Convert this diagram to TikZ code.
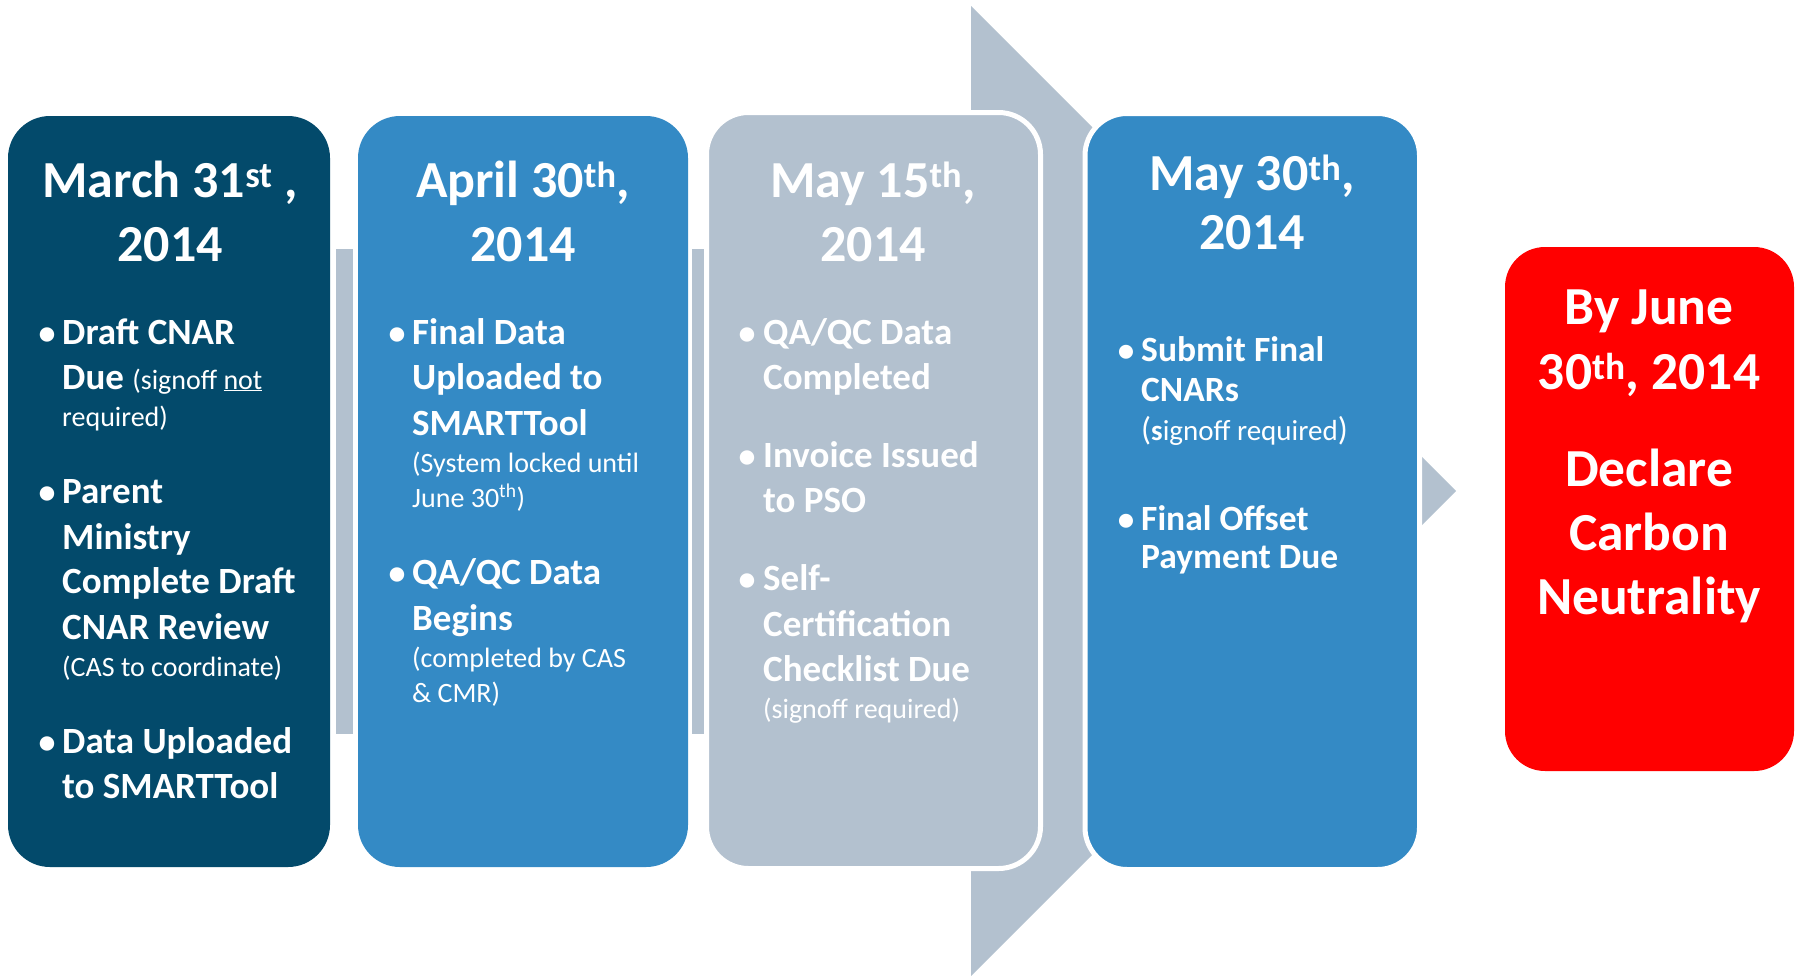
\documentclass[tikz,border=0pt]{standalone}
\usepackage{fontspec}
\setmainfont{Carlito}
\definecolor{navy}{RGB}{3,74,107}
\definecolor{midblue}{RGB}{52,138,197}
\definecolor{paleslate}{RGB}{179,193,207}
\definecolor{brightred}{RGB}{255,0,0}
\begin{document}
\begin{tikzpicture}[x=1pt,y=-1pt,
  boxshape/.style={rectangle,rounded corners=42pt,inner sep=0pt,outer sep=0pt},
  ttl/.style={anchor=base,inner sep=0pt,text=white,font=\fontsize{52}{64}\selectfont\bfseries},
  ttlr/.style={anchor=base,inner sep=0pt,text=white,font=\fontsize{53.5}{64}\selectfont\bfseries},
  ttlb/.style={anchor=base,inner sep=0pt,text=white,font=\fontsize{52}{58}\selectfont\bfseries},
  bl/.style={anchor=base west,inner sep=0pt,text=white,font=\fontsize{37}{46}\selectfont\bfseries},
  sl/.style={anchor=base west,inner sep=0pt,text=white,font=\fontsize{28}{34}\selectfont},
  blb/.style={anchor=base west,inner sep=0pt,text=white,font=\fontsize{35.5}{40}\selectfont\bfseries},
  slb/.style={anchor=base west,inner sep=0pt,text=white,font=\fontsize{29}{32}\selectfont},
  bul/.style={anchor=base,inner sep=0pt,text=white,font=\fontsize{34}{46}\selectfont\bfseries},
  bulb/.style={anchor=base,inner sep=0pt,text=white,font=\fontsize{33}{40}\selectfont\bfseries}]
\useasboundingbox (0,0) rectangle (1796,975);
% connecting shapes
\fill[paleslate] (971,6) -- (1456,491) -- (971,976) -- cycle;
\fill[paleslate] (336,249) rectangle (353,734);
\fill[paleslate] (692,249) rectangle (704,734);
% boxes
\node[boxshape,fill=navy,minimum width=322pt,minimum height=751pt] (box1) at (169,491.5) {};
\node[boxshape,fill=midblue,minimum width=330pt,minimum height=751pt] (box2) at (523,491.5) {};
\node[boxshape,fill=paleslate,draw=white,line width=5pt,minimum width=334pt,minimum height=756pt] (box3) at (873.5,490.5) {};
\node[boxshape,fill=midblue,draw=white,line width=5pt,minimum width=334.5pt,minimum height=756pt] (box4) at (1252.25,491.5) {};
\node[boxshape,rounded corners=40pt,fill=brightred,minimum width=289pt,minimum height=524pt] (box5) at (1649.5,509) {};
% box 1
\node[ttl] (t1a) at (170,197) {March 31\textsuperscript{st} ,};
\node[ttl] (t1b) at (170,261) {2014};
\node[bul] (d1a) at (47,344) {\textbullet};
\node[bl] (a1) at (62,344) {Draft CNAR};
\node[bl] (a2) at (62,389) {Due {\fontsize{28}{34}\selectfont\mdseries (signoff \underline{not}}};
\node[sl] (a3) at (62,426) {required)};
\node[bul] (d1b) at (47,503) {\textbullet};
\node[bl] (a4) at (62,503) {Parent};
\node[bl] (a5) at (62,549) {Ministry};
\node[bl] (a6) at (62,593) {Complete Draft};
\node[bl] (a7) at (62,639) {CNAR Review};
\node[sl] (a8) at (62,676) {(CAS to coordinate)};
\node[bul] (d1c) at (47,753) {\textbullet};
\node[bl] (a9) at (62,753) {Data Uploaded};
\node[bl] (a10) at (62,798) {to SMARTTool};
% box 2
\node[ttl] (t2a) at (523,197) {April 30\textsuperscript{th},};
\node[ttl] (t2b) at (523,261) {2014};
\node[bul] (d2a) at (397,344) {\textbullet};
\node[bl] (c1) at (412,344) {Final Data};
\node[bl] (c2) at (412,389) {Uploaded to};
\node[bl] (c3) at (412,435) {SMARTTool};
\node[sl] (c4) at (412,472) {(System locked until};
\node[sl] (c5) at (412,507) {June 30\textsuperscript{th})};
\node[bul] (d2b) at (397,584) {\textbullet};
\node[bl] (c6) at (412,584) {QA/QC Data};
\node[bl] (c7) at (412,630) {Begins};
\node[sl] (c8) at (412,667) {(completed by CAS};
\node[sl] (c9) at (412,702) {\& CMR)};
% box 3
\node[ttl] (t3a) at (873,197) {May 15\textsuperscript{th},};
\node[ttl] (t3b) at (873,261) {2014};
\node[bul] (d3a) at (747,344) {\textbullet};
\node[bl] (e1) at (763,344) {QA/QC Data};
\node[bl] (e2) at (763,389) {Completed};
\node[bul] (d3b) at (747,467) {\textbullet};
\node[bl] (e3) at (763,467) {Invoice Issued};
\node[bl] (e4) at (763,512) {to PSO};
\node[bul] (d3c) at (747,590) {\textbullet};
\node[bl] (e5) at (763,590) {Self-};
\node[bl] (e6) at (763,636) {Certification};
\node[bl] (e7) at (763,681) {Checklist Due};
\node[sl] (e8) at (763,718) {(signoff required)};
% box 4
\node[ttlb] (t4a) at (1252,190) {May 30\textsuperscript{th},};
\node[ttlb] (t4b) at (1252,249) {2014};
\node[bulb] (d4a) at (1126,361) {\textbullet};
\node[blb] (g1) at (1141,361) {Submit Final};
\node[blb] (g2) at (1141,401) {CNARs};
\node[slb] (g3) at (1141,440) {{\fontsize{33}{40}\selectfont(}\textbf{s}ignoff required{\fontsize{33}{40}\selectfont)}};
\node[bulb] (d4b) at (1126,530) {\textbullet};
\node[blb] (g4) at (1141,530) {Final Offset};
\node[blb] (g5) at (1141,568) {Payment Due};
% box 5
\node[ttlr] (r1) at (1649,324) {By June};
\node[ttlr] (r2) at (1649,389) {30\textsuperscript{th}, 2014};
\node[ttlr] (r3) at (1649,486) {Declare};
\node[ttlr] (r4) at (1649,550) {Carbon};
\node[ttlr] (r5) at (1649,614) {Neutrality};
\end{tikzpicture}
\end{document}
